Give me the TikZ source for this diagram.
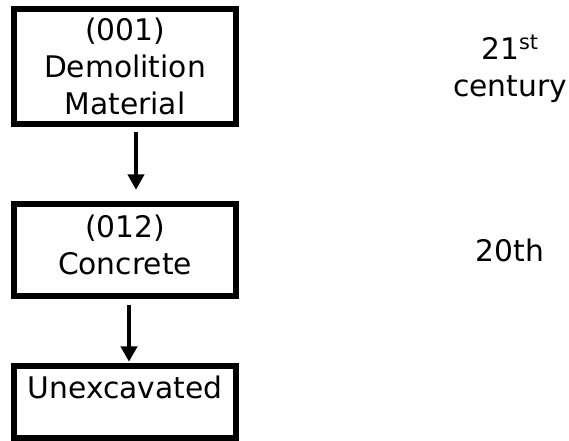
\documentclass[tikz,border=0pt]{standalone}
\usepackage{fontspec}
\setmainfont{DejaVu Sans}
\usetikzlibrary{arrows.meta}
\tikzset{
  txt/.style={font=\fontsize{22.3}{27.75}\selectfont},
  box/.style={txt, draw, line width=4.2pt, outer sep=0pt, inner sep=0pt,
    minimum width=166.5pt, align=center},
  arr/.style={line width=3pt, -{Triangle[width=12pt,length=11.5pt]}},
  lbl/.style={txt, align=center, inner sep=0pt}
}
\begin{document}
\begin{tikzpicture}[x=0.75pt,y=-0.75pt]
  \useasboundingbox (0,0) rectangle (569,441);
  \fill[white] (0,0) rectangle (569,441);
  \node[box, minimum height=86.25pt] (b1) at (125,66.5) {(001)\\Demolition\\Material};
  \node[box, minimum height=69.4pt] (b2) at (125,250) {(012)\\Concrete\rule[-7.35pt]{0pt}{7.35pt}};
  \node[box, minimum height=54.4pt] (b3) at (125,402) {Unexcavated\rule[-21.6pt]{0pt}{21.6pt}};
  \draw[arr] ([xshift=8.25pt,yshift=-6pt]b1.south) -- ([xshift=8.25pt,yshift=10.5pt]b2.north);
  \draw[arr] ([xshift=3pt,yshift=-6.4pt]b2.south) -- ([xshift=3pt,yshift=3pt]b3.north);
  \node[lbl, anchor=base] (c21) at (510,97) {21\textsuperscript{st}\\century};
  \node[lbl, anchor=base] (c20) at (510,262) {20th};
\end{tikzpicture}
\end{document}
